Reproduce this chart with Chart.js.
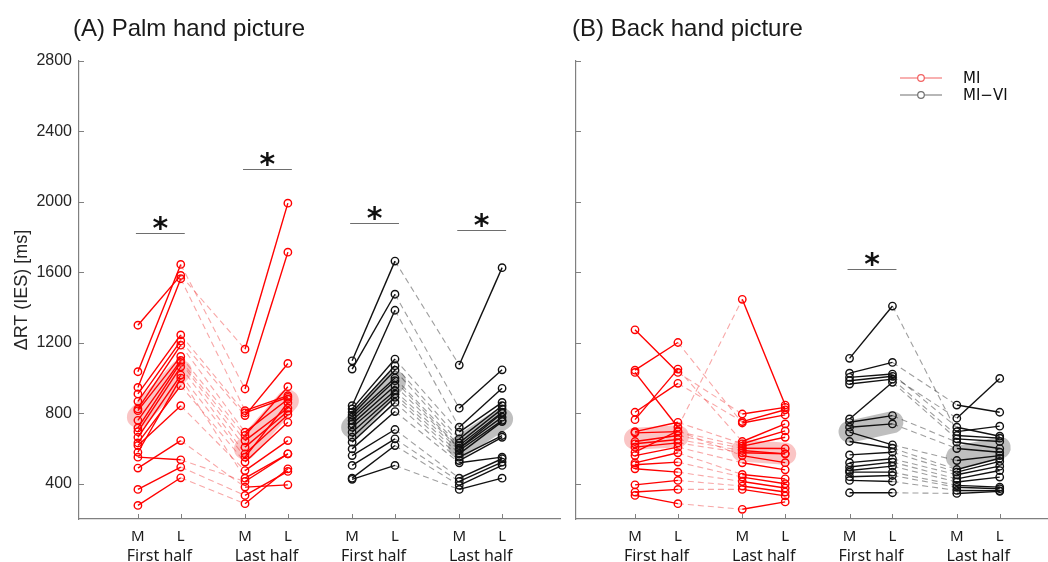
<!DOCTYPE html>
<html>
<head>
<meta charset="utf-8">
<script src="https://cdn.jsdelivr.net/npm/chart.js@4.4.1/dist/chart.umd.min.js"></script>
<style>
  html, body { margin: 0; padding: 0; background: #fff; }
  #wrap { position: relative; width: 1048px; height: 562px; overflow: hidden; }
  #boxA { position: absolute; left: 0; top: 0; width: 561px; height: 562px; }
  #boxB { position: absolute; left: 561px; top: 0; width: 487px; height: 562px; }
</style>
</head>
<body>
<div id="wrap">
  <div id="boxA"><canvas id="palm"></canvas></div>
  <div id="boxB"><canvas id="back"></canvas></div>
</div>
<script>
// category labels
var pairLabels = ['M', 'L'];
var halfLabels = ['First half', 'Last half', 'First half', 'Last half'];
var yTickValues = [400, 800, 1200, 1600, 2000, 2400, 2800];

// (A) palm, MI  -- one entry per participant
var palmMI_M1 = [1300, 1036, 947, 910, 868, 825, 815, 760, 717, 696, 664, 632, 617, 579, 551, 489, 368, 277];
var palmMI_L1 = [1583, 1645, 1564, 1245, 1211, 1187, 1123, 1100, 1089, 1064, 1017, 957, 843, 1000, 536, 645, 495, 434];
var palmMI_M2 = [1164, 938, 815, 802, 787, 693, 674, 645, 608, 570, 551, 523, 475, 432, 413, 381, 334, 287];
var palmMI_L2 = [1993, 1715, 900, 891, 1083, 880, 951, 830, 812, 792, 860, 749, 645, 570, 570, 394, 470, 485];
// (A) palm, MI-VI
var palmVI_M1 = [1098, 1051, 843, 825, 806, 790, 778, 759, 740, 721, 693, 664, 636, 598, 560, 504, 432, 425];
var palmVI_L1 = [1664, 1476, 1385, 1108, 1070, 1045, 1000, 985, 957, 928, 910, 891, 862, 810, 708, 655, 617, 504];
var palmVI_M2 = [1074, 829, 721, 693, 655, 632, 617, 602, 600, 589, 570, 551, 532, 519, 432, 413, 391, 368];
var palmVI_L2 = [1627, 1047, 942, 862, 843, 825, 806, 800, 778, 760, 753, 674, 664, 551, 542, 523, 504, 432];
// (B) back, MI
var backMI_M1 = [1274, 1045, 1032, 806, 764, 696, 689, 640, 627, 608, 579, 560, 519, 508, 485, 394, 353, 334];
var backMI_L1 = [1032, 1202, 721, 970, 1051, 749, 696, 674, 651, 632, 700, 608, 576, 523, 466, 419, 368, 287];
var backMI_M2 = [796, 745, 1447, 753, 640, 627, 614, 602, 589, 576, 560, 519, 453, 438, 413, 387, 368, 255];
var backMI_L2 = [834, 791, 847, 820, 740, 700, 664, 600, 570, 570, 520, 479, 428, 400, 376, 353, 331, 297];
// (B) back, MI-VI
var backVI_M1 = [1112, 1028, 1004, 985, 966, 768, 749, 721, 693, 640, 564, 520, 495, 475, 466, 440, 419, 349];
var backVI_L1 = [1409, 1089, 1023, 1010, 994, 976, 787, 740, 621, 602, 579, 542, 523, 500, 466, 447, 413, 349];
var backVI_M2 = [696, 847, 721, 772, 674, 655, 636, 600, 532, 481, 466, 451, 428, 410, 391, 380, 362, 345];
var backVI_L2 = [727, 806, 670, 998, 659, 640, 600, 579, 560, 545, 527, 500, 475, 438, 381, 372, 360, 357];

// group means (M, L, M, L)
var palmMI_mean = [779, 1041, 598, 872];
var palmVI_mean = [721, 980, 608, 768];
var backMI_mean = [655, 670, 589, 570];
var backVI_mean = [696, 749, 550, 605];

// significance bars: [pair index, height]
var palmSig = [[0, 1825], [1, 2187], [2, 1883], [3, 1843]];
var backSig = [[2, 1617]];

var RED = '#ff0000', RED_DASH = 'rgba(240,60,60,0.45)', RED_MEAN = 'rgba(240,90,90,0.35)';
var BLK = '#111111', BLK_DASH = 'rgba(0,0,0,0.38)', BLK_MEAN = 'rgba(128,128,128,0.5)';
var AXIS = '#808080';
var mPos = [0, 5, 10, 15];   // x of each "M"; "L" sits 2 units right

function subjectSets(cols, x0, solid, dashed) {
  var offs = [0, 2, 5, 7];
  return cols[0].map(function (_, i) {
    return {
      data: cols.map(function (c, k) { return { x: x0 + offs[k], y: c[i] }; }),
      borderColor: solid,
      borderWidth: 1.4,
      pointRadius: 3.7,
      pointBorderWidth: 1.4,
      pointBorderColor: solid,
      pointBackgroundColor: 'rgba(0,0,0,0)',
      order: 1,
      segment: {
        borderColor: function (ctx) { return ctx.p0DataIndex === 1 ? dashed : solid; },
        borderDash: function (ctx) { return ctx.p0DataIndex === 1 ? [6, 4] : undefined; },
        borderWidth: function (ctx) { return ctx.p0DataIndex === 1 ? 1.1 : 1.4; }
      }
    };
  });
}

function meanSets(mean, x0, color) {
  return [0, 1].map(function (k) {
    return {
      data: [{ x: x0 + k * 5, y: mean[k * 2] }, { x: x0 + k * 5 + 2, y: mean[k * 2 + 1] }],
      borderColor: color,
      borderWidth: 22,
      borderCapStyle: 'round',
      pointRadius: 0,
      order: 5
    };
  });
}

var decor = {
  id: 'decor',
  afterDatasetsDraw: function (chart, args, opts) {
    var ctx = chart.ctx, a = chart.chartArea, x = chart.scales.x, y = chart.scales.y;
    ctx.save();
    ctx.strokeStyle = AXIS;
    ctx.lineWidth = 1;
    ctx.beginPath();
    yTickValues.forEach(function (v) {
      var py = Math.round(y.getPixelForValue(v)) + 0.5;
      ctx.moveTo(a.left, py); ctx.lineTo(a.left + 5, py);
    });
    mPos.forEach(function (m) {
      [m, m + 2].forEach(function (v) {
        var px = Math.round(x.getPixelForValue(v)) + 0.5;
        ctx.moveTo(px, a.bottom); ctx.lineTo(px, a.bottom - 5);
      });
    });
    ctx.stroke();
    // significance bars
    ctx.strokeStyle = '#6e6e6e';
    ctx.lineWidth = 1.2;
    ctx.fillStyle = '#111';
    ctx.font = 'bold 30px "DejaVu Sans", sans-serif';
    ctx.textAlign = 'center';
    ctx.textBaseline = 'alphabetic';
    opts.sig.forEach(function (s) {
      var x1 = x.getPixelForValue(mPos[s[0]]) - 2;
      var x2 = x.getPixelForValue(mPos[s[0]] + 2) + 4;
      var py = Math.round(y.getPixelForValue(s[1])) + 0.5;
      ctx.beginPath(); ctx.moveTo(x1, py); ctx.lineTo(x2, py); ctx.stroke();
      ctx.fillText('*', (x1 + x2) / 2, py + 4);
    });
    ctx.restore();
  },
  afterDraw: function (chart, args, opts) {
    var ctx = chart.ctx;
    ctx.save();
    ctx.fillStyle = '#1a1a1a';
    ctx.font = '24px "Liberation Sans", Arial, sans-serif';
    ctx.textAlign = 'left';
    ctx.textBaseline = 'middle';
    ctx.fillText(opts.title, opts.titleX, 29);
    if (opts.legend) {
      var items = [['MI', 'rgba(240,70,70,0.85)', 78], ['MI\u2212VI', '#707070', 95]];
      items.forEach(function (it) {
        ctx.strokeStyle = it[1];
        ctx.lineWidth = 1.2;
        ctx.beginPath(); ctx.moveTo(339, it[2]); ctx.lineTo(381, it[2]); ctx.stroke();
        ctx.fillStyle = '#fff';
        ctx.beginPath(); ctx.arc(360, it[2], 3.3, 0, Math.PI * 2); ctx.fill(); ctx.stroke();
        ctx.fillStyle = '#111';
        ctx.font = '15px "DejaVu Sans", sans-serif';
        ctx.fillText(it[0], 402, it[2] + 1);
      });
    }
    ctx.restore();
  }
};

function makeChart(id, cols, means, opt) {
  var datasets = []
    .concat(meanSets(means[0], 0, RED_MEAN))
    .concat(meanSets(means[1], 10, BLK_MEAN))
    .concat(subjectSets(cols[0], 0, RED, RED_DASH))
    .concat(subjectSets(cols[1], 10, BLK, BLK_DASH));
  return new Chart(document.getElementById(id), {
    type: 'line',
    data: { datasets: datasets },
    options: {
      animation: false,
      responsive: true,
      maintainAspectRatio: false,
      events: [],
      layout: { autoPadding: false, padding: { left: opt.padLeft, top: 61, right: 0, bottom: 0 } },
      plugins: {
        legend: { display: false },
        tooltip: { enabled: false },
        decor: { title: opt.title, titleX: opt.titleX, sig: opt.sig, legend: opt.legend }
      },
      scales: {
        x: {
          type: 'linear', position: 'bottom', min: opt.xMin, max: opt.xMax, weight: 0,
          afterBuildTicks: function (s) {
            s.ticks = [];
            mPos.forEach(function (m) { s.ticks.push({ value: m }, { value: m + 2 }); });
          },
          afterFit: function (s) { s.height = 22; },
          ticks: {
            autoSkip: false, maxRotation: 0, padding: 9, color: '#1a1a1a',
            font: { family: '"Noto Sans", sans-serif', size: 15 },
            callback: function (v, i) { return pairLabels[i % 2]; }
          },
          grid: { display: false, drawTicks: false },
          border: { display: true, color: AXIS, width: 1.2 }
        },
        x2: {
          type: 'linear', position: 'bottom', min: opt.xMin, max: opt.xMax, weight: 1,
          afterBuildTicks: function (s) {
            s.ticks = mPos.map(function (m) { return { value: m + 1 }; });
          },
          afterFit: function (s) { s.height = 21; },
          ticks: {
            autoSkip: false, maxRotation: 0, padding: 6, color: '#1a1a1a',
            font: { family: '"Noto Sans", sans-serif', size: 16 },
            callback: function (v, i) { return halfLabels[i]; }
          },
          grid: { display: false, drawTicks: false },
          border: { display: false }
        },
        y: {
          type: 'linear', min: 200, max: 2800,
          afterBuildTicks: function (s) {
            s.ticks = yTickValues.map(function (v) { return { value: v }; });
          },
          afterFit: function (s) { s.width = opt.yWidth; },
          ticks: {
            display: opt.yLabels, padding: 7, color: '#262626',
            font: { family: '"Liberation Sans", Arial, sans-serif', size: 16 },
            callback: function (v) { return String(v); }
          },
          title: {
            display: opt.yLabels, text: '\u0394RT (IES) [ms]', color: '#262626',
            font: { family: '"Liberation Sans", Arial, sans-serif', size: 18 },
            padding: { top: 11, bottom: 0 }
          },
          grid: { display: false, drawTicks: false },
          border: { display: true, color: AXIS, width: 1.2 }
        }
      }
    },
    plugins: [decor]
  });
}

var palmChart = makeChart('palm',
  [[palmMI_M1, palmMI_L1, palmMI_M2, palmMI_L2], [palmVI_M1, palmVI_L1, palmVI_M2, palmVI_L2]],
  [palmMI_mean, palmVI_mean],
  { title: '(A) Palm hand picture', titleX: 73, sig: palmSig, legend: false,
    padLeft: 0, yWidth: 79, yLabels: true, xMin: -2.75, xMax: 19.75 });

var backChart = makeChart('back',
  [[backMI_M1, backMI_L1, backMI_M2, backMI_L2], [backVI_M1, backVI_L1, backVI_M2, backVI_L2]],
  [backMI_mean, backVI_mean],
  { title: '(B) Back hand picture', titleX: 11, sig: backSig, legend: true,
    padLeft: 15, yWidth: 0, yLabels: false, xMin: -2.75, xMax: 19.25 });
</script>
</body>
</html>
